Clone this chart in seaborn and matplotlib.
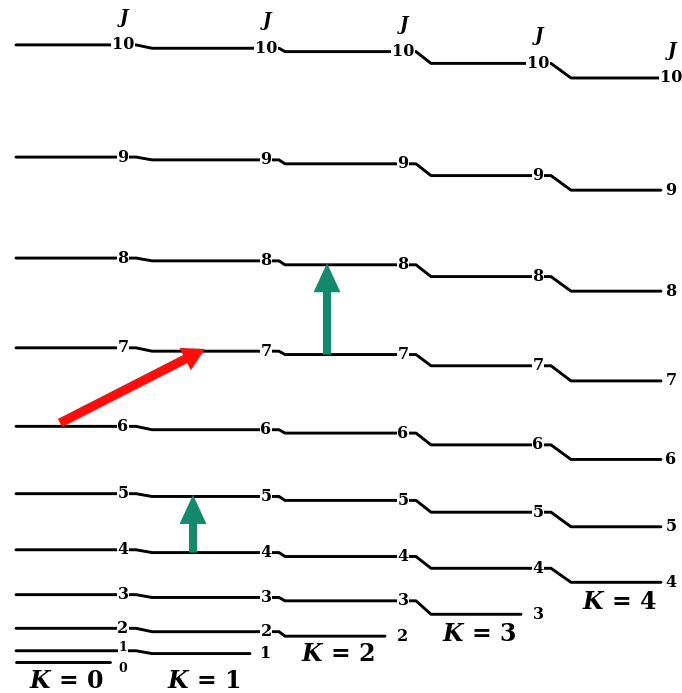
import matplotlib
matplotlib.use("Agg")
import matplotlib.pyplot as plt
import numpy as np
import pandas as pd
import seaborn as sns

# Rotational term values (in units of B), one ladder per K
k_values = [0, 1, 2, 3, 4]
levels_k0 = [0, 2, 6, 12, 20, 30, 42, 56, 72, 90, 110]           # J = 0..10
levels_k1 = [1.5, 5.4, 11.5, 19.5, 29.5, 41.4, 55.4, 71.5, 89.5, 109.4]  # J = 1..10
levels_k2 = [4.6, 10.9, 18.8, 28.8, 40.8, 54.8, 70.8, 88.8, 108.8]  # J = 2..10
levels_k3 = [8.5, 16.7, 26.7, 38.7, 52.8, 68.7, 86.7, 106.7]       # J = 3..10
levels_k4 = [14.2, 24.1, 36.1, 50.1, 66.1, 84.1, 104.1]            # J = 4..10
j_max = 10

# transitions drawn as arrows: (K_from, J_from, K_to, J_to, colour)
transitions = [
    (0, 6, 1, 7, "#ff0d0d"),
    (2, 7, 2, 8, "#148a6c"),
    (1, 4, 1, 5, "#148a6c"),
]

# ---- layout (canvas units ~ pixels across, energy up) ----
seg_start = [16, 152, 285, 431, 571]
seg_end = [110, 250, 385, 521, 661]
label_x = [123, 266, 403, 538, 671]
arrow_x = {(0, 6): 60, (1, 7): 205, (2, 7): 327, (2, 8): 327, (1, 4): 193, (1, 5): 193}
k_label_drop = [3.5, 5.0, 3.2, 3.6, 3.6]

ladders = [levels_k0, levels_k1, levels_k2, levels_k3, levels_k4]


def level(k, j):
    return ladders[k][j - k]


# build long-form polyline table for seaborn
rows = []
for j in range(0, j_max + 1):
    k_top = min(j, k_values[-1])
    for k in range(0, k_top + 1):
        e = level(k, j)
        rows.append({"J": j, "x": seg_start[k], "E": e})
        if k < k_top:
            rows.append({"J": j, "x": label_x[k] + 13, "E": e})
        else:
            rows.append({"J": j, "x": seg_end[k], "E": e})
lines_df = pd.DataFrame(rows)

sns.set_theme(style="white")
plt.rcParams["font.family"] = ["DejaVu Serif", "DejaVu Sans"]
plt.rcParams["mathtext.fontset"] = "dejavuserif"

fig = plt.figure(figsize=(6.82, 6.93), dpi=100)
ax = fig.add_axes([0, 0, 1, 1])

sns.lineplot(data=lines_df, x="x", y="E", units="J", estimator=None, sort=False,
             color="black", linewidth=2.1, ax=ax, legend=False)

# J labels sitting on the lines
for k in k_values:
    for j in range(k, j_max + 1):
        e = level(k, j)
        size = 11.5
        if k == 0 and j == 0:
            e = e - 1.2
            size = 9
        elif k == 0 and j == 1:
            e = e + 0.6
            size = 9
        ax.text(label_x[k], e, str(j), ha="center", va="center", fontsize=size,
                fontweight="bold", color="black",
                bbox=dict(boxstyle="square,pad=0.05", fc="white", ec="none"),
                zorder=3)
    # column header
    ax.text(label_x[k] + 1, level(k, j_max) + 4.8, "J", ha="center", va="center",
            fontsize=13, fontweight="bold", fontstyle="italic", color="black")
    # K label under the bottom level of the ladder
    ax.text((seg_start[k] + seg_end[k]) / 2 + 3, level(k, k) - k_label_drop[k],
            r"$\boldsymbol{K}\,\mathbf{=}\,\mathbf{%d}$" % k, ha="center", va="center",
            fontsize=17, color="black")

# transition arrows
for k0, j0, k1, j1, col in transitions:
    is_red = col.startswith("#ff")
    style = ("simple,head_length=0.8,head_width=0.9,tail_width=0.33" if is_red
             else "simple,head_length=1.05,head_width=0.97,tail_width=0.29")
    ax.annotate("", xy=(arrow_x[(k1, j1)], level(k1, j1) + (0.4 if is_red else 0.3)),
                xytext=(arrow_x[(k0, j0)], level(k0, j0) + (0.6 if is_red else 0.0)),
                arrowprops=dict(arrowstyle=style, mutation_scale=20, color=col,
                                lw=0, shrinkA=0, shrinkB=0), zorder=4)

ax.set_xlim(0, 682)
ax.set_ylim(-5.53, 118.0)
ax.axis("off")

fig.savefig("out.png", dpi=100, facecolor="white")
